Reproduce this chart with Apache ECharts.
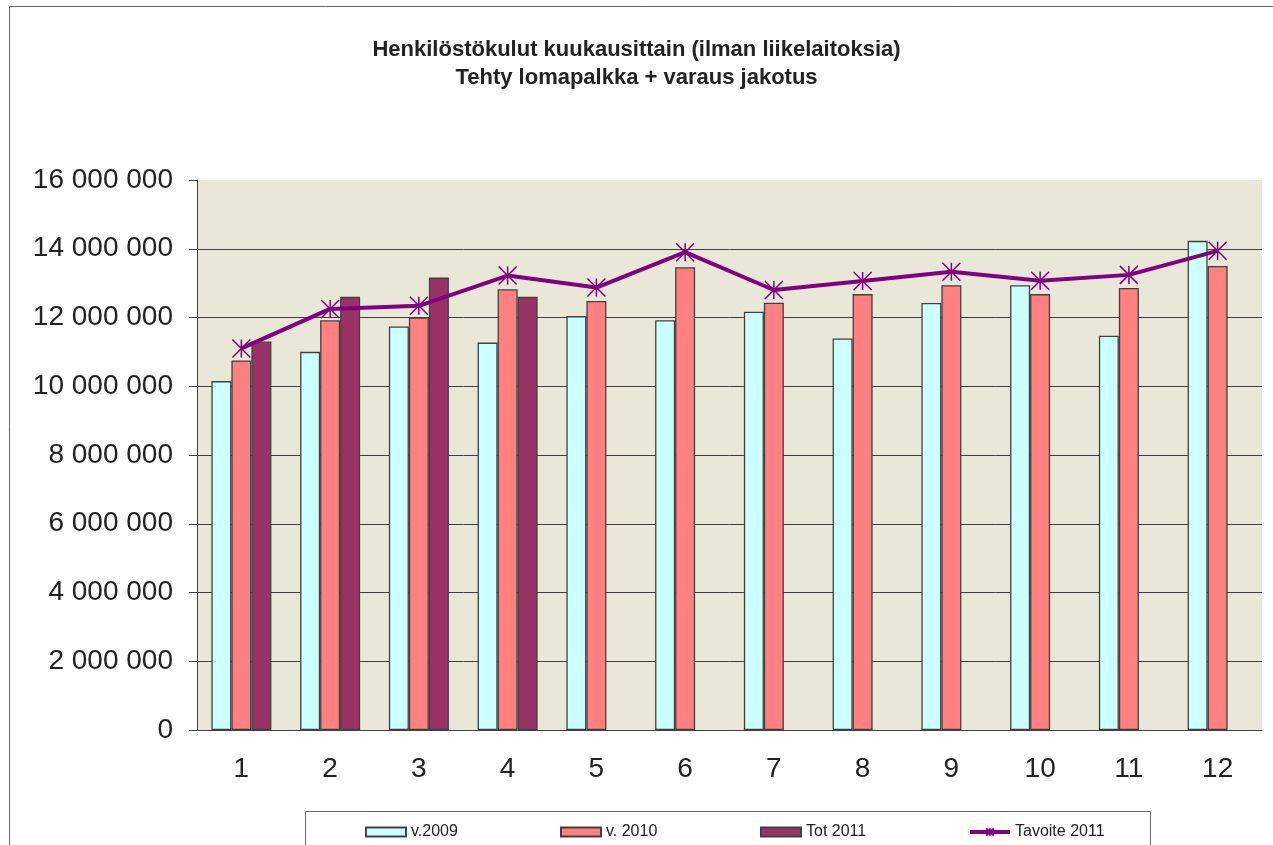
<!DOCTYPE html>
<html>
<head>
<meta charset="utf-8">
<style>
	html, body { margin: 0; padding: 0; background: #fff; }
	#chart { width: 1273px; height: 845px; }
</style>
<script src="https://cdn.jsdelivr.net/npm/echarts@6/dist/echarts.min.js"></script>
</head>
<body>
<div id="chart"></div>
<script>
// months and values
const months = ['1', '2', '3', '4', '5', '6', '7', '8', '9', '10', '11', '12']
const v2009 = [10150000, 11000000, 11740000, 11270000, 12040000, 11920000, 12170000, 11390000, 12420000, 12940000, 11470000, 14230000]
const v2010 = [10750000, 11920000, 12000000, 12820000, 12480000, 13460000, 12430000, 12680000, 12940000, 12680000, 12860000, 13500000]
const tot2011 = [11300000, 12600000, 13160000, 12600000, null, null, null, null, null, null, null, null]
const tavoite2011 = [11100000, 12250000, 12340000, 13220000, 12870000, 13900000, 12800000, 13060000, 13330000, 13070000, 13240000, 13940000]
const seriesNames = ['v.2009', 'v. 2010', 'Tot 2011', 'Tavoite 2011']

const font = 'Liberation Sans, Arial, sans-serif'
const star = 'path://M0 0L10 10M10 0L0 10M5 0L5 10'

function spaced(value) {
	return String(value).replace(/\B(?=(\d{3})+(?!\d))/g, ' ')
}

function legendAt(name, left, icon) {
	let legend = {
		data: [{ name: name, icon: icon }], left: left, top: 819,
		itemWidth: 40, itemHeight: 9, itemGap: 0,
		textStyle: { fontFamily: font, fontSize: 16, color: '#222' },
		selectedMode: false
	}
	if (!icon) {
		legend.lineStyle = { width: 4 }
	}
	return legend
}

let chart = echarts.init(document.getElementById('chart'))
let option = {
	animation: false,
	backgroundColor: '#fff',
	title: {
		text: 'Henkilöstökulut kuukausittain (ilman liikelaitoksia)\nTehty lomapalkka + varaus jakotus',
		left: 'center', top: 31,
		textStyle: { fontFamily: font, fontSize: 22, fontWeight: 'bold', color: '#222', lineHeight: 28 }
	},
	graphic: [
		{ type: 'rect', left: 7, top: 4, shape: { width: 1400, height: 1000 }, style: { fill: 'none', stroke: '#666', lineWidth: 1 }, silent: true },
		{ type: 'rect', left: 305, top: 811, shape: { width: 845, height: 60 }, style: { fill: '#fff', stroke: '#666', lineWidth: 1 }, silent: true, z: -1 }
	],
	legend: [
		legendAt(seriesNames[0], 360, 'rect'),
		legendAt(seriesNames[1], 555, 'rect'),
		legendAt(seriesNames[2], 755, 'rect'),
		legendAt(seriesNames[3], 963)
	],
	grid: {
		left: 197, right: 11, top: 180, bottom: 115,
		show: true, backgroundColor: '#E9E7D7', borderWidth: 0
	},
	xAxis: {
		type: 'category', data: months,
		axisLine: { lineStyle: { color: '#404040', width: 1 } },
		axisTick: { length: 8, lineStyle: { color: '#404040' } },
		axisLabel: { fontFamily: font, fontSize: 28, color: '#222', margin: 25 }
	},
	yAxis: {
		type: 'value', min: 0, max: 16000000, interval: 2000000,
		axisLine: { show: true, lineStyle: { color: '#404040', width: 1 } },
		axisTick: { show: true, length: 8, lineStyle: { color: '#404040' } },
		axisLabel: { fontFamily: font, fontSize: 28, color: '#222', margin: 24, formatter: spaced },
		splitLine: { show: true, showMaxLine: false, lineStyle: { color: '#404040', width: 1 } }
	},
	series: [
		{
			name: seriesNames[0], type: 'bar', data: v2009,
			barWidth: 20, barGap: '0%',
			itemStyle: { color: '#CCFFFF', borderColor: '#404040', borderWidth: 1.3 }
		},
		{
			name: seriesNames[1], type: 'bar', data: v2010,
			barWidth: 20, barGap: '0%',
			itemStyle: { color: '#FF8080', borderColor: '#404040', borderWidth: 1.3 }
		},
		{
			name: seriesNames[2], type: 'bar', data: tot2011,
			barWidth: 20, barGap: '0%',
			itemStyle: { color: '#993366', borderColor: '#404040', borderWidth: 1.3 }
		},
		{
			name: seriesNames[3], type: 'line', data: tavoite2011,
			symbol: star, symbolSize: 18, showAllSymbol: true,
			lineStyle: { color: '#800080', width: 4 },
			itemStyle: { color: '#800080', borderColor: '#800080', borderWidth: 1.5 },
			z: 5
		}
	]
}
chart.setOption(option)
</script>
</body>
</html>
